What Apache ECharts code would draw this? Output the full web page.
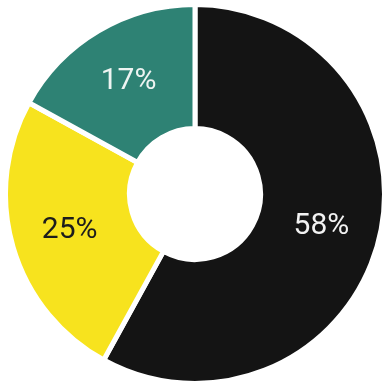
<!DOCTYPE html>
<html>
<head>
<meta charset="utf-8">
<style>
  html, body { margin: 0; padding: 0; background: #ffffff; }
  #chart { width: 382px; height: 383px; }
</style>
<script src="https://cdn.jsdelivr.net/npm/echarts@6/dist/echarts.min.js"></script>
</head>
<body>
<div id="chart"></div>
<script>
// Share of each group, in percent, drawn clockwise from 12 o'clock
const categories = ['Group A', 'Group B', 'Group C'];
const shares = [58, 25, 17];

// Slice fills and label colours, in the same order as the categories
const sliceColors = ['#141414', '#f7e31e', '#2e8274'];
const labelColors = ['#f2f2f2', '#1c1c1c', '#eef4f2'];

const chart = echarts.init(document.getElementById('chart'), null, { renderer: 'canvas' });

chart.setOption({
  animation: false,
  backgroundColor: '#ffffff',
  series: [{
    type: 'pie',
    center: [195, 194],
    radius: [65.5, 189.5],
    startAngle: 90,
    clockwise: true,
    avoidLabelOverlap: false,
    itemStyle: { borderColor: '#ffffff', borderWidth: 5 },
    label: {
      show: true,
      position: 'inside',
      formatter: '{c}%',
      fontFamily: 'Roboto, "Liberation Sans", sans-serif',
      fontSize: 30,
      fontWeight: 'normal'
    },
    labelLine: { show: false },
    emphasis: { disabled: true },
    data: categories.map((name, i) => ({
      name: name,
      value: shares[i],
      itemStyle: { color: sliceColors[i] },
      label: { color: labelColors[i] }
    }))
  }]
});
</script>
</body>
</html>
